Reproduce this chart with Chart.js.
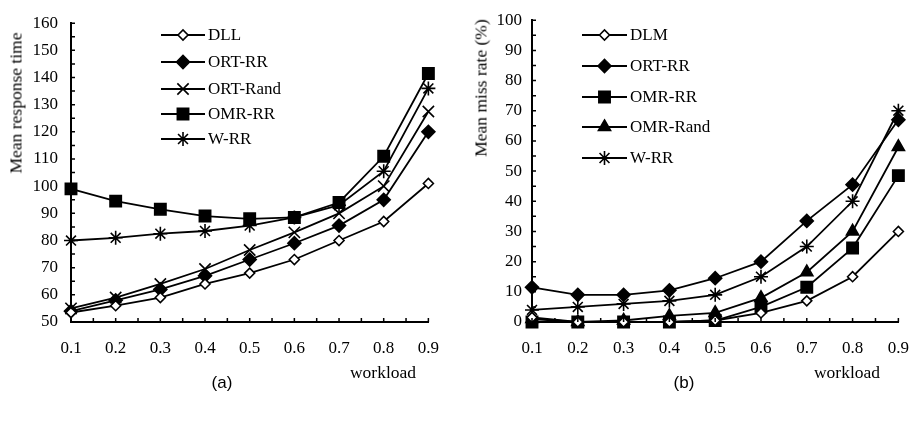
<!DOCTYPE html>
<html>
<head>
<meta charset="utf-8">
<script src="https://cdn.jsdelivr.net/npm/chart.js@4/dist/chart.umd.min.js"></script>
<style>
  body { margin: 0; background: #fff; overflow: hidden; }
  #page { position: relative; width: 910px; height: 423px; overflow: hidden; }
  canvas { position: absolute; top: 0; }
  .txt { position: absolute; font-family: "Liberation Serif", serif; font-size: 17.5px; color: #000; white-space: nowrap; }
  .ytitle { transform: translate(-50%, -50%) rotate(-90deg); }
  .sub { position: absolute; font-family: "Liberation Sans", Arial, sans-serif; font-size: 17px; transform: translate(-50%, -50%); }
</style>
</head>
<body>
<div id="page">
  <canvas id="chartA" width="455" height="423" style="left:0;width:455px;height:423px"></canvas>
  <canvas id="chartB" width="470" height="423" style="left:455px;width:470px;height:423px"></canvas>
  <div class="txt ytitle" style="left:16px;top:103px">Mean response time</div>
  <div class="txt" style="left:383px;top:372px;transform:translate(-50%,-50%)">workload</div>
  <div class="txt ytitle" style="left:481px;top:88px">Mean miss rate (%)</div>
  <div class="txt" style="left:847px;top:372px;transform:translate(-50%,-50%)">workload</div>
  <div class="sub" style="left:222px;top:383px">(a)</div>
  <div class="sub" style="left:684px;top:383px">(b)</div>
</div>
<script>
// Data
const workload = [0.1, 0.2, 0.3, 0.4, 0.5, 0.6, 0.7, 0.8, 0.9];

// (a) mean response time
const dllTime     = [53.5, 56, 59, 64, 68, 73, 80, 87, 101];
const ortRrTime   = [54, 58, 62, 67, 73, 79, 85.5, 95, 120];
const ortRandTime = [55, 59, 64, 69.5, 76.5, 83, 90, 100, 127.5];
const omrRrTime   = [99, 94.5, 91.5, 89, 88, 88.5, 94, 111, 141.5];
const wRrTime     = [80, 81, 82.5, 83.5, 85.5, 88.5, 93, 105.5, 136];

// (b) mean miss rate
const dlmMiss     = [1.5, 0, 0, 0, 0.5, 3, 7, 15, 30];
const ortRrMiss   = [11.5, 9, 9, 10.5, 14.5, 20, 33.5, 45.5, 67];
const omrRrMiss   = [0, 0, 0, 0, 0.5, 5, 11.5, 24.5, 48.5];
const omrRandMiss = [1, 0, 0.5, 2, 3, 8, 16.5, 30, 58];
const wRrMiss     = [4, 5, 6, 7, 9, 15, 25, 40, 70];

// Marker styles
const markers = {
    openDiamond: {pointStyle: 'rectRot', radius: 5, fill: '#fff'},
    diamond: {pointStyle: 'rectRot', radius: 6.5, fill: '#000'},
    cross: {pointStyle: 'crossRot', radius: 8, fill: '#000'},
    square: {pointStyle: 'rect', radius: 8, fill: '#000'},
    triangle: {pointStyle: 'triangle', radius: 7, fill: '#000'},
    star: {pointStyle: 'star', radius: 7, fill: '#000'}
};

const makeDataset = (label, values, m) => ({
    label: label,
    data: values.map((v, i) => ({x: workload[i], y: v})),
    borderColor: '#000',
    borderWidth: 1.8,
    pointStyle: m.pointStyle,
    pointRadius: m.radius,
    pointHoverRadius: m.radius,
    pointBackgroundColor: m.fill,
    pointBorderColor: '#000',
    pointBorderWidth: 1.6,
    tension: 0,
    clip: false,
    _marker: m
});

const font = {family: "'Liberation Serif', serif", size: 17};

// inward tick marks + legend
const decorPlugin = {
    id: 'decor',
    afterDraw(chart, args, opts) {
        const ctx = chart.ctx;
        const area = chart.chartArea;
        const xs = chart.scales.x, ys = chart.scales.y;
        ctx.save();
        ctx.strokeStyle = '#000';
        ctx.lineWidth = 1.5;
        ctx.beginPath();
        xs.ticks.forEach(t => {
            let px = xs.getPixelForValue(t.value);
            ctx.moveTo(px, area.bottom);
            ctx.lineTo(px, area.bottom - 4);
        });
        ys.ticks.forEach(t => {
            let py = ys.getPixelForValue(t.value);
            ctx.moveTo(area.left, py);
            ctx.lineTo(area.left + 4, py);
        });
        ctx.stroke();

        // legend
        const lg = opts.legend;
        ctx.font = "17px 'Liberation Serif', serif";
        ctx.textBaseline = 'middle';
        ctx.fillStyle = '#000';
        chart.data.datasets.forEach((ds, i) => {
            let y = lg.ys[i];
            ctx.lineWidth = 1.8;
            ctx.beginPath();
            ctx.moveTo(lg.x1, y);
            ctx.lineTo(lg.x2, y);
            ctx.stroke();
            let m = ds._marker;
            ctx.fillStyle = m.fill;
            ctx.lineWidth = 1.6;
            Chart.helpers.drawPoint(ctx, {pointStyle: m.pointStyle, radius: m.radius, borderWidth: 1.6, rotation: 0}, (lg.x1 + lg.x2) / 2, y);
            ctx.fillStyle = '#000';
            ctx.fillText(ds.label, lg.x2 + 3, y + 1);
        });
        ctx.restore();
    }
};

const buildChart = (id, datasets, cfg) => {
    new Chart(document.getElementById(id), {
        type: 'line',
        data: {datasets: datasets},
        options: {
            responsive: false,
            animation: false,
            layout: {padding: {left: 0, top: cfg.top, right: cfg.right, bottom: cfg.bottom}},
            plugins: {
                legend: {display: false},
                tooltip: {enabled: false},
                decor: {legend: cfg.legend}
            },
            scales: {
                x: {
                    type: 'linear',
                    min: 0.1,
                    max: 0.9,
                    afterFit: (s) => { s.height = 40; },
                    ticks: {
                        stepSize: 0.05,
                        autoSkip: false,
                        maxRotation: 0,
                        padding: 16,
                        color: '#000',
                        font: font,
                        callback: (v) => Math.abs(v * 10 - Math.round(v * 10)) < 1e-6 ? v.toFixed(1) : ''
                    },
                    grid: {display: true, drawOnChartArea: false, drawTicks: false},
                    border: {display: true, color: '#000', width: 2}
                },
                y: {
                    min: cfg.ymin,
                    max: cfg.ymax,
                    afterFit: (s) => { s.width = cfg.left; },
                    ticks: {
                        stepSize: 5,
                        autoSkip: false,
                        padding: cfg.ypad,
                        color: '#000',
                        font: font,
                        callback: (v) => v % 10 === 0 ? v : ''
                    },
                    grid: {display: true, drawOnChartArea: false, drawTicks: false},
                    border: {display: true, color: '#000', width: 2}
                }
            }
        },
        plugins: [decorPlugin]
    });
};

buildChart('chartA', [
    makeDataset('DLL', dllTime, markers.openDiamond),
    makeDataset('ORT-RR', ortRrTime, markers.diamond),
    makeDataset('ORT-Rand', ortRandTime, markers.cross),
    makeDataset('OMR-RR', omrRrTime, markers.square),
    makeDataset('W-RR', wRrTime, markers.star)
], {
    ymin: 50, ymax: 160, left: 71, top: 19, right: 19, bottom: 61, ypad: 13,
    legend: {x1: 161, x2: 205, ys: [35, 62, 89, 114, 139]}
});

buildChart('chartB', [
    makeDataset('DLM', dlmMiss, markers.openDiamond),
    makeDataset('ORT-RR', ortRrMiss, markers.diamond),
    makeDataset('OMR-RR', omrRrMiss, markers.square),
    makeDataset('OMR-Rand', omrRandMiss, markers.triangle),
    makeDataset('W-RR', wRrMiss, markers.star)
], {
    ymin: 0, ymax: 100, left: 77, top: 14, right: 24, bottom: 61, ypad: 10,
    legend: {x1: 127, x2: 172, ys: [35, 66, 97, 127, 158]}
});
</script>
</body>
</html>
